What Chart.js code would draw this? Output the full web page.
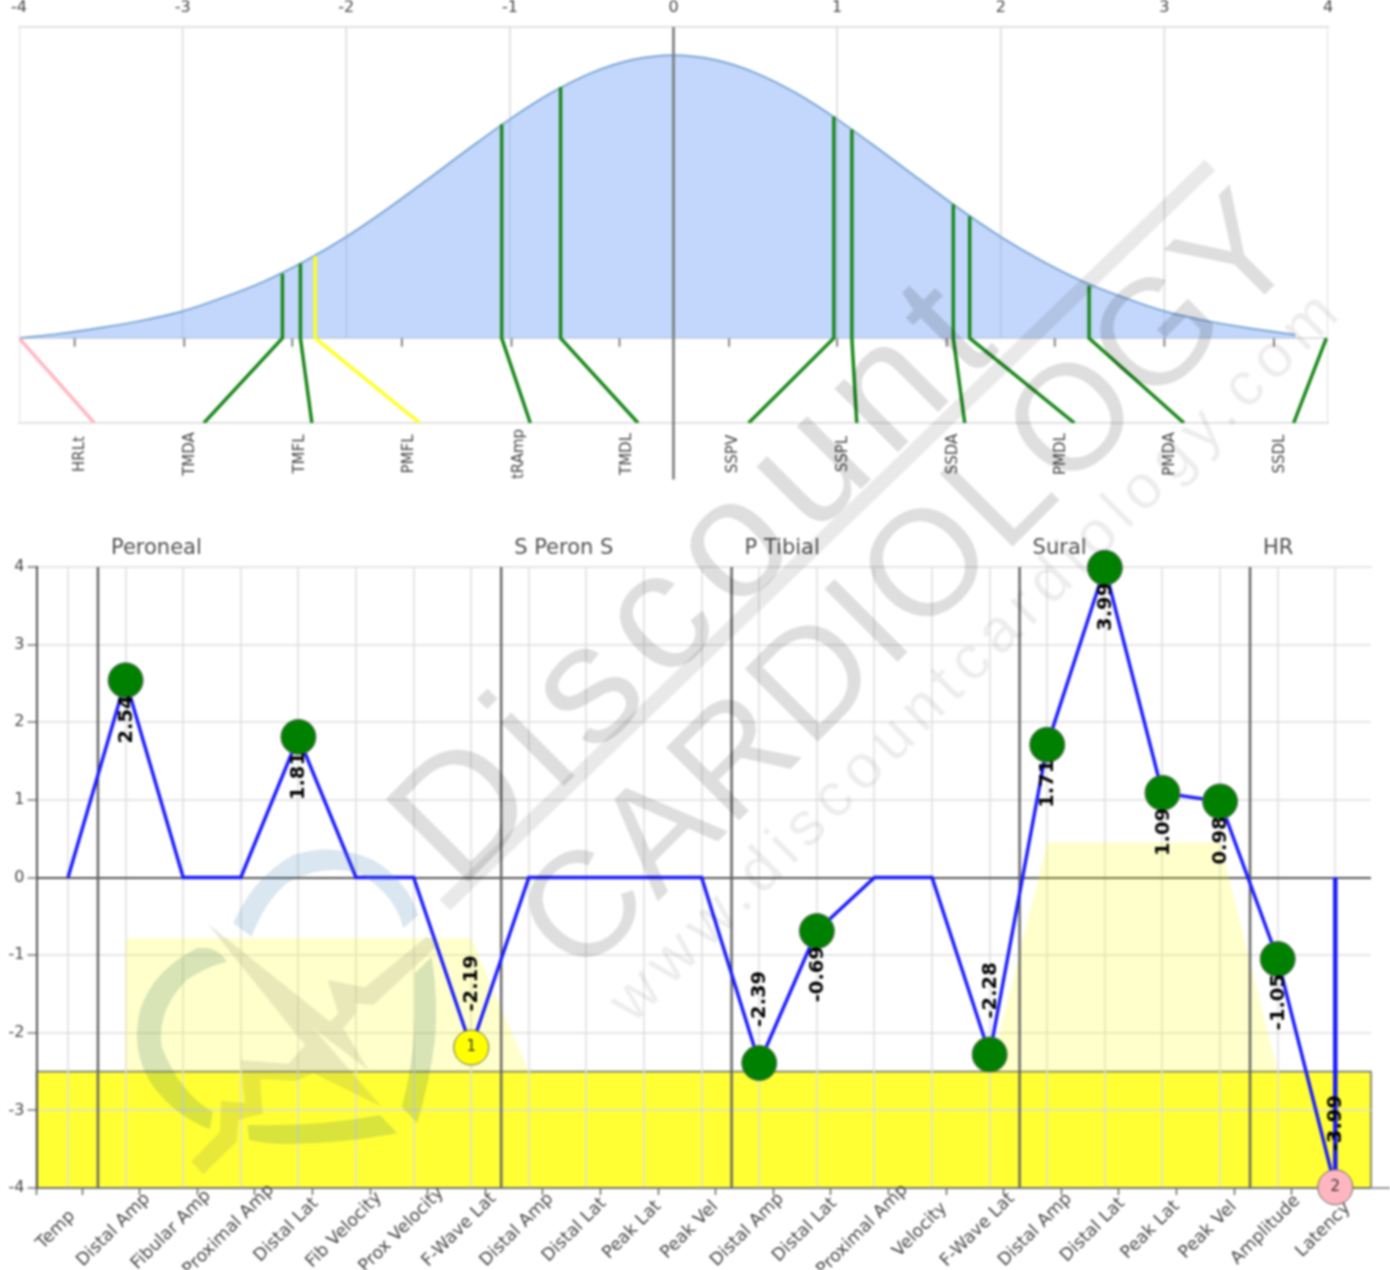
<!DOCTYPE html>
<html><head><meta charset="utf-8">
<script src="https://cdn.jsdelivr.net/npm/chart.js@4"></script>
<style>
html,body{margin:0;padding:0;background:#fff;width:1390px;height:1270px;overflow:hidden}
#wrap{position:relative;width:1390px;height:1270px;filter:blur(.9px)}
canvas{position:absolute;left:0}
.wm{position:absolute;white-space:nowrap;font-family:"Liberation Sans",sans-serif;line-height:1;transform-origin:0 100%;transform:rotate(-45deg);pointer-events:none}
</style></head><body>
<div id="wrap">
<canvas id="top" width="1390" height="500" style="top:0;width:1390px;height:500px"></canvas>
<canvas id="bot" width="1390" height="770" style="top:500px;width:1390px;height:770px"></canvas>
<svg style="position:absolute;left:0;top:0" width="1390" height="1270">
 <g transform="matrix(.3333 0 0 .3333 120 840)">
  <path fill="rgba(70,130,180,.2)" d="M340 250Q400 110 520 45Q640 5 760 60Q860 120 895 225L850 265Q830 170 720 100Q600 70 500 130Q430 190 395 290Z"/>
  <path fill="rgba(60,120,90,.2)" d="M320 365Q290 315 230 325Q100 390 60 510Q30 640 100 740Q170 830 270 868L278 815Q180 760 125 620Q110 510 200 420Q260 380 320 365Z"/>
  <path fill="rgba(60,120,90,.2)" d="M382 855Q600 860 780 825L832 880Q640 915 480 912Q430 910 388 900Z"/>
  <path fill="rgba(60,120,90,.2)" d="M935 350Q955 470 945 600Q930 720 892 850L845 800Q880 680 885 520L885 400Z"/>
  <path fill="rgba(120,120,90,.17)" d="M262 250L630 545L655 520L623 420L735 442L920 290L960 310L760 495L705 490L708 520L670 565L745 690L580 565L785 800L580 700L530 722L420 718L428 822L355 840L350 905L250 1003L213 965L300 875L303 782L375 790L362 660L505 672L555 615Z"/>
 </g>
 <line x1="445" y1="905" x2="1210" y2="165" stroke="rgba(0,0,0,.085)" stroke-width="15"/>
</svg>
<div class="wm" style="left:477px;top:740px;font-size:170px;letter-spacing:15px;color:rgba(0,0,0,.13)">Discount</div>
<div class="wm" style="left:595px;top:847px;font-size:150px;letter-spacing:3px;color:rgba(0,0,0,.13)">CARDIOLOGY</div>
<div class="wm" style="left:640px;top:970px;font-size:62px;letter-spacing:8.4px;color:rgba(0,0,0,.07)">www.discountcardiology.com</div>
</div>
<script>
// ---------- normal-curve panel ----------
const curveZ = [-4,-3.75,-3.5,-3.25,-3,-2.75,-2.5,-2.25,-2,-1.75,-1.5,-1.25,-1,-0.75,-0.5,-0.25,0,0.25,0.5,0.75,1,1.25,1.5,1.75,2,2.25,2.5,2.75,3,3.25,3.5,3.8];
const curveH = [0,0.016,0.037,0.062,0.095,0.144,0.201,0.273,0.358,0.456,0.562,0.67,0.774,0.866,0.938,0.984,1,0.984,0.938,0.866,0.774,0.67,0.562,0.456,0.358,0.273,0.201,0.144,0.095,0.062,0.037,0.012];
const topTicks = [-4,-3,-2,-1,0,1,2,3,4];
const testNames = ['HRLt','TMDA','TMFL','PMFL','tRAmp','TMDL','SSPV','SSPL','SSDA','PMDL','PMDA','SSDL'];
const testNamePos = [-3.63,-2.96,-2.29,-1.62,-0.95,-0.29,0.36,1.03,1.7,2.36,3.03,3.7];
const testTickPos = [-3.66,-2.99,-2.33,-1.66,-0.99,-0.33,0.34,1.0,1.67,2.33,3.0,3.67];
const testZ = [-4,-2.39,-2.28,-2.19,-1.05,-0.69,0.98,1.09,1.71,1.81,2.54,3.99];
const testH = [0,0.228,0.264,0.29,0.756,0.888,0.784,0.738,0.473,0.431,0.185,0];
const testBottomZ = [-3.54,-2.87,-2.21,-1.55,-0.875,-0.217,0.459,1.12,1.78,2.45,3.12,3.79];
const testStatus = ['pink','green','green','yellow','green','green','green','green','green','green','green','green'];
// ---------- z-score panel ----------
const categories = ['Temp','Distal Amp','Fibular Amp','Proximal Amp','Distal Lat','Fib Velocity','Prox Velocity','F-Wave Lat','Distal Amp','Distal Lat','Peak Lat','Peak Vel','Distal Amp','Distal Lat','Proximal Amp','Velocity','F-Wave Lat','Distal Amp','Distal Lat','Peak Lat','Peak Vel','Amplitude','Latency'];
const zScores = [0,2.54,0,0,1.81,0,0,-2.19,0,0,0,0,-2.39,-0.69,0,0,-2.28,1.71,3.99,1.09,0.98,-1.05,-3.99];
const markerStatus = [null,'green',null,null,'green',null,null,'yellow',null,null,null,null,'green','green',null,null,'green','green','green','green','green','green','pink'];
const markerNumbers = {7:'1',22:'2'};
const sectionNames = ['Peroneal','S Peron S','P Tibial','Sural','HR'];
const sectionEdges = [0.52,7.52,11.52,16.52,20.52];
const normalA = [[1,-0.78],[7,-0.78],[8,-2.5]];
const normalB = [[16,-2.5],[17,0.45],[20,0.45],[21,-2.5]];
const abnormalLimit = -2.5;
const yTicks = [-4,-3,-2,-1,0,1,2,3,4];

const FONT = '"DejaVu Sans",sans-serif';
const TXT = '#454545';
const GRID = 'rgba(222,222,222,.75)';
const statusColor = {green:'#168516',yellow:'#ffff22',pink:'#ffb6c1'};
const markerColor = {green:'#008000',yellow:'#ffff00',pink:'#ffb6c1'};
Chart.defaults.animation = false;
Chart.defaults.font.family = FONT;

function broken(xs, y0, y1){ const out=[]; xs.forEach(x=>{out.push({x,y:y0},{x,y:y1},{x,y:null});}); return out; }
function pairs(a){ return a.map(p=>({x:p[0],y:p[1]})); }

const topSets = [];
testZ.forEach((z,i)=>topSets.push({data:[{x:z,y:testH[i]},{x:z,y:0},{x:testBottomZ[i],y:-0.3}],borderColor:statusColor[testStatus[i]],borderWidth:3.4,pointRadius:0,order:1}));
topSets.push({data:[{x:0,y:1.1},{x:0,y:-0.5}],borderColor:'#777',borderWidth:2.5,pointRadius:0,clip:false,order:2});
topSets.push({data:curveZ.map((z,i)=>({x:z,y:curveH[i]})),cubicInterpolationMode:'monotone',borderColor:'#7fa8d6',borderWidth:2,pointRadius:0,fill:'origin',backgroundColor:'rgba(133,175,247,.5)',order:3});
topSets.push({data:broken(testTickPos,0,-0.03),borderColor:'#777',borderWidth:1.8,pointRadius:0,spanGaps:false,order:4});
topSets.push({data:broken(topTicks,0,1.1),borderColor:'#dedede',borderWidth:1.8,pointRadius:0,spanGaps:false,order:5});
topSets.push({data:broken([-4,4],-0.3,0),borderColor:'#dedede',borderWidth:1.8,pointRadius:0,spanGaps:false,order:5});
topSets.push({data:[{x:-4,y:0},{x:4,y:0}],borderColor:'#dedede',borderWidth:1.8,pointRadius:0,order:6});

new Chart(document.getElementById('top'),{
 type:'line',
 data:{datasets:topSets},
 options:{responsive:false,layout:{padding:{left:19,right:62,top:0,bottom:0}},
  plugins:{legend:{display:false},tooltip:{enabled:false}},
  scales:{
   x:{type:'linear',position:'top',min:-4,max:4,
      afterBuildTicks(s){s.ticks=topTicks.map(v=>({value:v}));},
      afterFit(s){s.height=27;},
      ticks:{color:TXT,font:{size:16},padding:2,maxRotation:0,autoSkip:false,callback:v=>String(v)},
      grid:{display:false},border:{display:true,color:'#dedede',width:1.8}},
   xb:{type:'linear',position:'bottom',min:-4,max:4,afterFit(s){s.height=77;},
      ticks:{display:false},grid:{display:false},border:{display:true,color:'#dedede',width:1.8}},
   y:{display:false,min:-0.3,max:1.1}
  }},
 plugins:[{id:'names',afterDatasetsDraw(c){
   const g=c.ctx,s=c.scales.x,y=c.chartArea.bottom+31;
   g.save();g.fillStyle=TXT;g.font='15px '+FONT;g.textAlign='center';g.textBaseline='middle';
   testNames.forEach((n,i)=>{g.save();g.translate(s.getPixelForValue(testNamePos[i])+1,y);g.rotate(-Math.PI/2);g.fillText(n,0,0);g.restore();});
   g.restore();
 }}]
});

const idx = categories.map((_,i)=>i);
const X_MIN=-0.547, X_MAX=22.62;
const tickVals=[X_MIN].concat(idx.map(i=>i+0.243));
const lower=[
 {data:zScores.map((v,i)=>({x:i,y:v})),borderColor:'#1a1aff',borderWidth:3.4,order:1,
  pointRadius:ctx=>markerStatus[ctx.dataIndex]?17.5:0,
  pointBackgroundColor:ctx=>markerColor[markerStatus[ctx.dataIndex]]||'transparent',
  pointBorderColor:'#666',pointBorderWidth:1,clip:false},
 {data:[{x:22,y:0},{x:22,y:zScores[22]}],borderColor:'#1a1aff',borderWidth:4.5,pointRadius:0,order:2},
 {data:broken(sectionEdges,-4,4),borderColor:'#666',borderWidth:2.5,pointRadius:0,spanGaps:false,order:3},
 {data:pairs(normalA),borderColor:'transparent',borderWidth:0,pointRadius:0,fill:{value:abnormalLimit},backgroundColor:'rgba(255,255,0,.2)',order:4},
 {data:pairs(normalB),borderColor:'transparent',borderWidth:0,pointRadius:0,fill:{value:abnormalLimit},backgroundColor:'rgba(255,255,0,.2)',order:4},
 {data:[{x:X_MAX,y:-4},{x:22.95,y:-4}],borderColor:'#999',borderWidth:2,pointRadius:0,clip:false,order:5}
];
new Chart(document.getElementById('bot'),{
 type:'line',
 data:{datasets:lower},
 options:{responsive:false,layout:{padding:{left:0,right:19,top:0,bottom:0}},
  plugins:{legend:{display:false},tooltip:{enabled:false}},
  scales:{
   x:{type:'linear',position:'top',min:X_MIN,max:X_MAX,
      afterBuildTicks(s){s.ticks=idx.map(v=>({value:v}));},
      afterFit(s){s.height=67;},
      ticks:{display:false},
      grid:{color:GRID,lineWidth:2,drawTicks:false},border:{display:true,color:'#e4e4e4',width:1.5}},
   xl:{type:'linear',position:'bottom',min:X_MIN,max:X_MAX,
      afterBuildTicks(s){s.ticks=tickVals.map(v=>({value:v}));},
      afterFit(s){s.height=82;},
      ticks:{display:false},
      grid:{drawOnChartArea:false,drawTicks:true,tickLength:7,tickColor:'#666',tickWidth:1.5},
      border:{display:true,color:'#777',width:2}},
   y:{type:'linear',min:-4,max:4,
      afterBuildTicks(s){s.ticks=yTicks.map(v=>({value:v}));},
      afterFit(s){s.width=36.5;},
      ticks:{color:TXT,font:{size:16},padding:3,callback:v=>String(v)},
      grid:{tickLength:9,tickColor:'#777',tickWidth:1.5,
            color:ctx=>ctx.tick&&ctx.tick.value===0?'#555':GRID,
            lineWidth:2},
      border:{display:true,color:'#555',width:2}}
  }},
 plugins:[{id:'band',beforeDraw(c){
   const g=c.ctx,a=c.chartArea,y=c.scales.y.getPixelForValue(abnormalLimit),b=c.scales.y.getPixelForValue(-4);
   g.save();g.fillStyle='rgba(255,255,0,.8)';g.fillRect(a.left,y,a.right-a.left,b-y);
   g.strokeStyle='#666';g.lineWidth=1.5;g.strokeRect(a.left,y,a.right-a.left,b-y);g.restore();
 },afterDatasetsDraw(c){
   const g=c.ctx,a=c.chartArea,xs=c.scales.x,ys=c.scales.y;
   g.save();
   // section titles
   g.fillStyle='#505050';g.font='21px '+FONT;g.textAlign='left';g.textBaseline='middle';
   sectionNames.forEach((n,i)=>g.fillText(n,xs.getPixelForValue(sectionEdges[i])+13,a.top-18));
   // rotated values beside each marker
   g.fillStyle='#000';g.font='bold 19.5px '+FONT;
   zScores.forEach((v,i)=>{ if(!markerStatus[i])return;
     const px=xs.getPixelForValue(i),py=ys.getPixelForValue(v);
     g.save();g.translate(px,py);g.rotate(-Math.PI/2);
     if(v<-2){g.textAlign='left';g.textBaseline='middle';g.fillText(v.toFixed(2),36,1);}
     else{g.textAlign='right';g.textBaseline='middle';g.fillText(v.toFixed(2),-15,1);}
     g.restore();
   });
   // marker numbers
   g.font='15px '+FONT;g.textAlign='center';g.textBaseline='middle';g.fillStyle='#333';
   Object.keys(markerNumbers).forEach(i=>g.fillText(markerNumbers[i],xs.getPixelForValue(+i),ys.getPixelForValue(zScores[i])));
   // rotated category labels
   g.font='17.5px '+FONT;g.fillStyle=TXT;
   categories.forEach((n,i)=>{g.save();g.translate(xs.getPixelForValue(i+0.243)-26,a.bottom+42);g.rotate(-Math.PI/4);g.fillText(n,0,0);g.restore();});
   g.restore();
 }}]
});
</script>
</body></html>
